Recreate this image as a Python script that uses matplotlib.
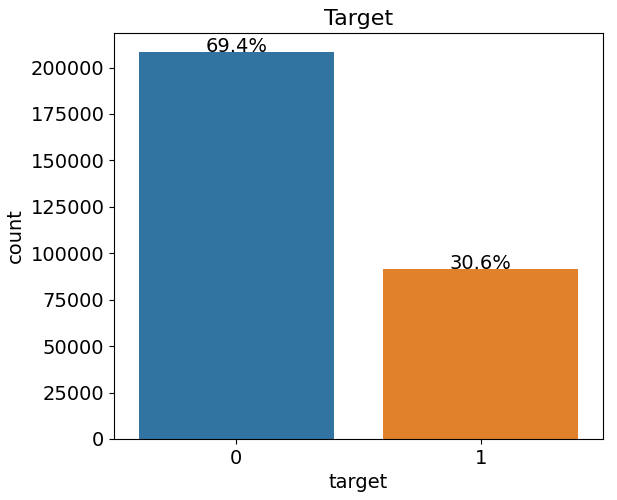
import matplotlib
matplotlib.use("Agg")
import matplotlib.pyplot as plt

# values
categories = ["0", "1"]
counts = [208200, 91800]
colors = ["#3274a1", "#e1812c"]

total = sum(counts)

fig = plt.figure(figsize=(6.17, 5), dpi=100)
ax = fig.add_axes([0.185, 0.122, 0.792, 0.812])
bars = ax.bar(range(len(categories)), counts, width=0.8, color=colors)
ax.set_xlim(-0.5, len(categories) - 0.5)
ax.set_xticks(range(len(categories)))
ax.set_xticklabels(categories)

for b in bars:
    h = b.get_height()
    ax.text(b.get_x() + b.get_width() / 2, h + 3, '{:1.1f}%'.format(100 * h / total),
            ha="center", fontsize=14)

ax.set_title("Target", fontsize=16)
ax.set_xlabel("target", fontsize=14)
ax.set_ylabel("count", fontsize=14)
ax.tick_params(labelsize=14)

fig.savefig("out.png", dpi=100)
